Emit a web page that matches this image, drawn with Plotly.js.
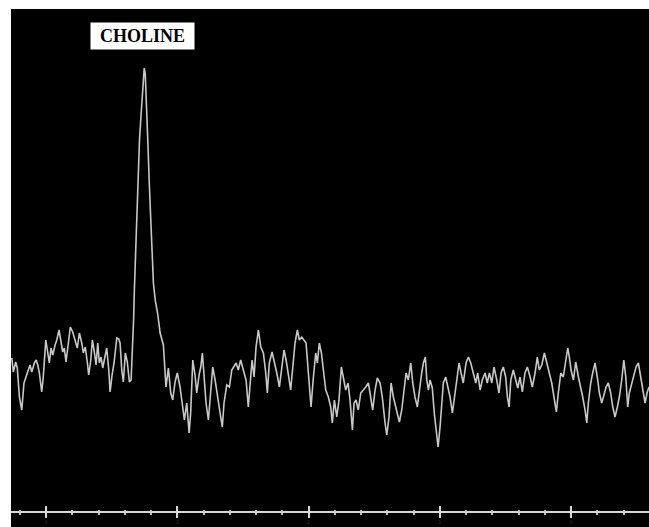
<!DOCTYPE html>
<html>
<head>
<meta charset="utf-8">
<script src="https://cdn.plot.ly/plotly-3.0.1.min.js"></script>
<style>html,body{margin:0;padding:0;background:#fff;}#chart{width:649px;height:527px;}</style>
</head>
<body>
<div id="chart"></div>
<script>
// Chemical shift (ppm) and signal amplitude (arbitrary units)
const ppm = [
4.261,4.249,4.231,4.219,4.203,4.185,4.168,4.152,4.135,4.122,4.109,4.089,4.076,4.063,4.051,4.033,4.021,4.002,
3.990,3.975,3.962,3.949,3.931,3.918,3.901,3.888,3.873,3.861,3.848,3.830,3.815,3.797,3.779,3.762,3.746,3.728,
3.716,3.701,3.685,3.675,3.659,3.647,3.632,3.619,3.606,3.594,3.581,3.568,3.553,3.538,3.522,3.512,3.497,3.482,
3.461,3.446,3.436,3.423,3.411,3.396,3.381,3.365,3.352,
3.341,3.333,3.327,3.318,3.309,3.299,3.288,3.276,3.266,3.259,3.252,3.244,3.237,3.230,3.223,3.213,3.202,3.192,
3.182,3.166,3.150,3.131,3.106,
3.086,3.068,3.050,3.035,3.017,3.000,2.979,2.962,2.946,2.928,2.910,2.898,2.882,2.865,2.852,2.834,2.821,2.809,
2.796,2.781,2.763,2.745,2.730,2.712,2.695,2.674,2.657,2.644,2.623,2.603,2.585,2.568,2.552,2.535,2.517,2.497,
2.476,2.459,2.446,2.430,2.415,2.400,2.382,2.364,2.344,2.326,2.314,2.299,2.278,
2.258,2.242,2.222,2.204,2.187,2.171,2.154,2.136,2.120,2.103,2.085,2.070,2.052,2.034,2.019,2.009,1.996,1.981,
1.963,1.945,1.933,1.918,1.902,1.887,1.869,1.849,1.831,1.819,1.803,1.785,1.768,1.750,1.735,1.717,1.699,1.684,
1.666,1.653,1.638,1.621,1.602,1.582,1.564,1.544,1.526,1.511,1.493,1.476,1.455,1.438,1.417,1.404,1.387,
1.371,1.354,1.328,1.308,1.290,1.272,1.257,1.240,1.221,1.206,1.189,1.171,1.156,1.138,1.125,1.110,1.099,1.087,
1.074,1.057,1.042,1.029,1.013,0.998,0.985,0.973,0.955,0.939,0.922,0.904,0.889,0.871,0.853,0.838,0.821,0.800,
0.782,0.764,0.744,0.726,0.711,0.693,0.676,0.655,0.638,0.622,0.604,0.587,0.566,0.549,0.533,0.516,0.498,0.485,
0.472,0.459,0.440,
0.421,0.406,0.389,0.371,0.351,0.333,0.312,0.295,0.274,0.257,0.242,0.223,0.203,0.185,0.168,0.147,0.130,0.112,
0.097,0.078,0.059,0.040,0.025,0.013,0.000,-0.018,-0.036,-0.056,-0.074,-0.089,-0.107,-0.120,-0.132,-0.150,-0.165,
-0.183,-0.200,-0.216,-0.234,-0.251,-0.267,-0.284,-0.302,-0.318,-0.335,-0.353,-0.368,-0.386,-0.402,-0.417,-0.432,
-0.444,-0.463,-0.480,-0.495,-0.513,-0.531,-0.546,-0.564,-0.579,-0.594
];
const signal = [
154,140,150,144,115,102,129,135,142,147,140,149,152,147,139,120,135,172,
162,149,164,157,167,172,182,172,160,164,150,169,185,180,172,164,179,169,
159,165,149,137,152,172,160,147,169,149,155,144,154,164,142,120,137,149,
174,173,169,142,130,159,150,130,132,
162,192,222,262,302,340,372,397,420,436,444,438,417,395,365,327,289,257,
229,210,199,179,167,
125,144,119,112,130,139,125,105,92,109,79,99,152,137,119,137,145,159,
134,109,92,119,145,132,115,99,85,109,127,125,142,145,149,142,152,142,
132,105,125,152,135,165,182,165,159,139,119,149,160,
149,139,125,142,162,152,135,122,145,169,182,172,175,172,169,152,125,105,
135,159,149,169,159,139,122,115,105,89,112,95,112,145,135,122,129,112,
82,109,112,102,119,122,125,129,115,102,122,134,129,115,89,77,95,
129,115,102,90,102,122,139,132,149,129,115,105,122,139,149,155,132,122,
132,124,99,82,65,85,109,129,135,125,115,99,115,135,149,139,129,149,
155,149,139,129,139,122,132,139,129,139,129,145,132,119,139,145,135,115,
105,132,142,
132,124,135,120,139,145,135,125,139,155,142,147,159,149,139,129,115,100,
119,139,135,149,164,155,142,132,150,135,125,115,102,89,109,129,139,
149,135,119,109,119,125,129,119,105,95,105,115,132,152,135,105,
119,129,139,145,149,135,119,109,119,125
];
// Peak label
const peakLabel = ['CHOLINE'];
const peakLabelAt = [3.265, 476];
// Axis ticks
const majorTicks = [4, 3, 2, 1, 0];
const majorTickText = ['4', '3', '2', '1', '0'];

const lineColor = '#c8c8c8';
const axisColor = '#d8d8d8';

const traces = [
  {x: ppm, y: signal, type: 'scatter', mode: 'lines',
   line: {color: lineColor, width: 1.6, shape: 'linear'},
   hoverinfo: 'skip', xaxis: 'x', yaxis: 'y'},
  {x: ppm, y: signal, type: 'scatter', mode: 'lines',
   line: {color: lineColor, width: 0}, opacity: 0,
   hoverinfo: 'skip', xaxis: 'x2', yaxis: 'y'}
];

const xRange = [4.267, -0.594];
const commonX = {
  range: xRange, autorange: false, anchor: 'free', position: 15/518,
  tickmode: 'array', tickvals: majorTicks,
  ticklen: 6, tickwidth: 2, tickcolor: axisColor,
  showgrid: false, zeroline: false, fixedrange: true,
  minor: {dtick: 0.2, tick0: 0, ticklen: 2, tickwidth: 2, tickcolor: '#bdbdbd', showgrid: false}
};

const layout = {
  width: 649, height: 527,
  margin: {l: 11, r: 0, t: 9, b: 0, pad: 0},
  paper_bgcolor: '#ffffff',
  plot_bgcolor: '#000000',
  showlegend: false,
  xaxis: Object.assign({}, commonX, {
    ticks: 'outside', ticklen: 5, showline: true, linecolor: axisColor, linewidth: 2,
    ticktext: majorTickText, showticklabels: true,
    tickfont: {family: 'DejaVu Sans', size: 5, color: '#2a2a2a'}, ticklabelstandoff: 0,
    minor: Object.assign({}, commonX.minor, {ticks: 'outside'})
  }),
  xaxis2: Object.assign({}, commonX, {
    overlaying: 'x', ticks: 'inside', showline: false, showticklabels: false,
    minor: Object.assign({}, commonX.minor, {ticks: 'inside'})
  }),
  yaxis: {
    range: [-15, 503], autorange: false, visible: false, showgrid: false,
    zeroline: false, fixedrange: true
  },
  annotations: [{
    x: peakLabelAt[0], y: peakLabelAt[1], xref: 'x', yref: 'y',
    text: '<b>' + peakLabel[0] + '</b>', showarrow: false,
    font: {family: 'Liberation Serif', size: 18, color: '#000000'},
    bgcolor: '#ffffff', width: 103, height: 26, borderpad: 0,
    xanchor: 'center', yanchor: 'middle'
  }]
};

Plotly.newPlot('chart', traces, layout, {staticPlot: true, displayModeBar: false});
</script>
</body>
</html>
